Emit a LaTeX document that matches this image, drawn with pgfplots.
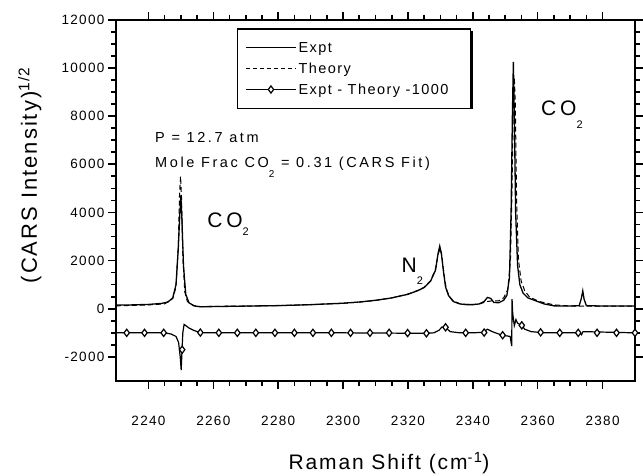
\documentclass[border=0pt]{standalone}
\usepackage{fontspec}
\setmainfont{Liberation Sans}
\newfontfamily\tickfont{Liberation Sans}[LetterSpace=10]
\newfontfamily\annfont{Liberation Sans}[LetterSpace=18]
\newfontfamily\legfont{Liberation Sans}[LetterSpace=10]
\newfontfamily\labfont{Liberation Sans}[LetterSpace=9]
\usepackage{pgfplots}
\pgfplotsset{compat=1.18}

\newcommand{\annsize}{\annfont\fontsize{14.5}{16}\selectfont}
\newcommand{\bigann}{\annfont\fontsize{21}{22}\selectfont}
\newcommand{\legsize}{\legfont\fontsize{14.5}{16}\selectfont}
\newcommand{\legtxt}[1]{\makebox[162pt][l]{\legsize #1}}

\begin{document}
\begin{tikzpicture}
\useasboundingbox (-116pt,-94pt) rectangle (527pt,381pt);
\begin{axis}[
  scale only axis, width=519pt, height=361.3pt,
  xmin=2230, xmax=2390, ymin=-3000, ymax=12000,
  xtick={2240,2260,...,2380}, ytick={-2000,0,...,12000},
  minor x tick num=3, minor y tick num=3,
  tick align=outside, major tick length=8pt, minor tick length=5pt,
  axis line style={line width=2pt},
  every tick/.style={black, line width=1.6pt},
  scaled ticks=false,
  /pgf/number format/1000 sep={},
  /pgf/number format/assume math mode=true,
  tick label style={font=\tickfont\fontsize{13.5}{14}\selectfont},
  xticklabel style={yshift=-24pt},
  xlabel={\labfont\fontsize{21}{22}\selectfont Raman Shift (cm\textsuperscript{-1})},
  xlabel style={at={(axis description cs:0.526,-0.227)}, anchor=center},
  ylabel={\labfont\fontsize{22}{22}\selectfont (CARS Intensity)\textsuperscript{1/2}},
  ylabel style={at={(axis description cs:-0.166,0.57)}, anchor=center},
  legend style={at={(0.2326,0.976)}, anchor=north west, draw=black,
    line width=1.3pt, fill=white, font=\legsize,
    cells={anchor=west}, row sep=5pt, inner xsep=8pt, inner ysep=11pt},
  legend image code/.code={\draw[mark repeat=2,mark phase=2,#1]
    plot coordinates {(0pt,0pt) (25pt,0pt) (50pt,0pt)};},
]
\addlegendimage{black, line width=1.2pt}
\addlegendentry{\legtxt{Expt}}
\addlegendimage{black, line width=0.8pt, dash pattern=on 4pt off 3pt}
\addlegendentry{\legtxt{Theory}}
\addlegendimage{black, line width=1.2pt, mark=diamond*, mark size=3.6pt, mark options={fill=white, solid, line width=1.2pt}}
\addlegendentry{\legtxt{Expt - Theory -1000}}

% Theory (dashed)
\addplot[forget plot, black, line width=1pt, dash pattern=on 5pt off 3pt] coordinates {
(2230,120) (2240,160) (2245,200) (2247.5,420) (2248.5,900) (2249.2,2600)
(2249.6,4800) (2249.9,5500) (2250.2,4600) (2250.6,2200) (2251.2,700) (2252,300)
(2254,130) (2256,90) (2260,100) (2270,110) (2280,130) (2290,170) (2300,225)
(2305,275) (2310,345) (2315,450) (2320,610) (2323,760) (2325,890) (2327,1170)
(2328.5,1650) (2329.3,2250) (2329.9,2500) (2330.4,2250) (2331.1,1450) (2331.8,850)
(2332.7,520) (2334,320) (2336,210) (2338,180) (2340,175) (2342,200) (2344.5,300)
(2346,330) (2348,330) (2349.5,450) (2350.8,800) (2351.6,2000) (2352.1,5000)
(2352.5,8500) (2352.8,9600) (2353.1,8500) (2353.5,4500) (2354.1,2000)
(2354.9,1150) (2356,750) (2357.5,480) (2360.5,300) (2365,160) (2370,115)
(2375,110) (2390,110)
};
% Expt (solid)
\addplot[forget plot, black, line width=1.3pt] coordinates {
(2230,150) (2235,160) (2240,180) (2244,220) (2246,280) (2247.5,450)
(2248.5,1000) (2249.2,2500) (2249.7,4000) (2250.0,4700) (2250.3,3800)
(2250.8,1800) (2251.5,600) (2252.5,250) (2254,120) (2256,80) (2260,90)
(2270,110) (2280,130) (2290,170) (2300,230) (2305,280) (2310,350) (2315,450)
(2320,600) (2323,750) (2325,880) (2327,1150) (2328.5,1600) (2329.3,2300)
(2329.8,2600) (2330.3,2300) (2331,1500) (2331.6,900) (2332.5,550) (2334,300)
(2336,200) (2338,170) (2340,170) (2342,200) (2343.5,300) (2344.5,470)
(2345.5,430) (2346.5,260) (2348,250) (2349.5,350) (2350.5,550) (2351.3,1300)
(2351.8,4000) (2352.2,8000) (2352.5,10250) (2352.8,8000) (2353.2,4000)
(2353.8,1800) (2354.5,1000) (2355.5,650) (2357,450) (2360,300) (2362,200)
(2365,120) (2370,110) (2372.8,130) (2373.4,400) (2373.9,740) (2374.3,400)
(2375,130) (2380,110) (2390,110)
};
% Expt - Theory - 1000 (line)
\addplot[forget plot, black, line width=1.2pt] coordinates {
(2230,-1000) (2245,-1000) (2247,-1050) (2248.5,-1150) (2249.3,-1400)
(2249.8,-2000) (2250.1,-2550) (2250.3,-1900) (2250.6,-1000) (2251,-650)
(2251.5,-700) (2252.5,-800) (2254,-900) (2256,-990) (2260,-1000) (2300,-1000)
(2325,-1020) (2328,-1000) (2329.5,-900) (2330.5,-760) (2331.6,-770)
(2333,-950) (2336,-1000) (2340,-1000) (2343,-980) (2344.5,-850) (2346,-950)
(2348,-1050) (2349.2,-1100) (2351.5,-1150) (2352.0,-1550) (2352.1,400)
(2352.3,-200) (2352.8,-700) (2353.3,-450) (2353.8,-600) (2355.1,-690)
(2356,-850) (2358,-950) (2362,-1000) (2373,-1000) (2373.5,-1080)
(2374,-950) (2390,-1000)
};
% markers on the difference curve
\addplot[forget plot, only marks, mark=diamond*, mark size=3.6pt,
  mark options={fill=white, line width=1.2pt}] coordinates {
(2233.3,-1000) (2238.8,-1000) (2244.7,-1000) (2250.4,-1700) (2256.0,-990)
(2261.7,-1000) (2267.4,-1000) (2273.1,-1000) (2279.0,-1000) (2285.0,-1000)
(2290.7,-1000) (2296.4,-1000) (2302.3,-1000) (2308.3,-1000) (2314.2,-1000)
(2319.9,-1010) (2325.7,-1020) (2331.6,-770) (2337.8,-1000) (2343.5,-990)
(2349.2,-1100) (2355.1,-690) (2360.9,-980) (2366.8,-1000) (2372.5,-1000)
(2378.3,-1000) (2384.3,-1000) (2390.0,-1000)
};

% shadow strips along the bottom and right edges of the legend box
\fill[black] (rel axis cs:0.2370,0.7626) rectangle (rel axis cs:0.6869,0.7515);
\fill[black] (rel axis cs:0.6783,0.9693) rectangle (rel axis cs:0.6869,0.7515);

\node[anchor=base west, font=\annsize] at (axis cs:2241,6917) {P = 12.7 atm};
\node[anchor=base west, font=\annsize] at (axis cs:2241,5875)
  {Mole Frac CO\raisebox{-10pt}{\fontsize{10}{10}\selectfont 2} = 0.31 (CARS Fit)};
\node[anchor=base west, font=\bigann] at (axis cs:2257.1,3375)
  {CO\raisebox{-8pt}{\fontsize{11}{11}\selectfont 2}};
\node[anchor=base west, font=\bigann] at (axis cs:2317,1500)
  {N\raisebox{-12pt}{\fontsize{11}{11}\selectfont 2}};
\node[anchor=base west, font=\bigann] at (axis cs:2360,8030)
  {CO\raisebox{-13pt}{\fontsize{11}{11}\selectfont 2}};
\end{axis}
\end{tikzpicture}
\end{document}
